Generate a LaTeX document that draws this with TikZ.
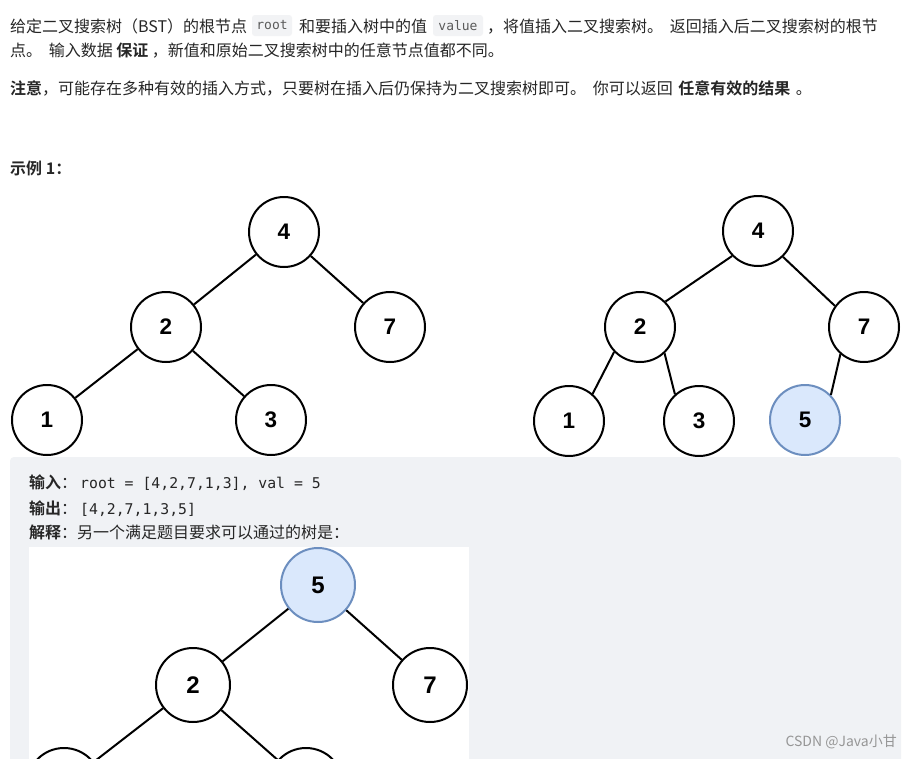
\documentclass[tikz,border=0pt]{standalone}
\usepackage{fontspec}
\setmainfont{Liberation Sans}
\newfontfamily\cjk{Noto Sans CJK SC}[BoldFont={Noto Sans CJK SC Bold}]
\newfontfamily\numf{Liberation Sans}
\newfontfamily\monof{DejaVu Sans Mono}
\definecolor{txt}{RGB}{38,38,38}
\definecolor{codebg}{RGB}{242,243,245}
\definecolor{codetx}{RGB}{90,90,90}
\definecolor{panel}{RGB}{240,242,245}
\definecolor{bluefill}{RGB}{218,232,252}
\definecolor{blueline}{RGB}{108,142,191}
\definecolor{wm}{RGB}{150,150,150}
\tikzset{
  tnode/.style={circle, draw=black, line width=2pt, fill=white, minimum size=70pt, inner sep=0pt,
    font=\numf\bfseries\fontsize{22.5}{22.5}\selectfont},
  bignode/.style={tnode, minimum size=74pt, font=\numf\bfseries\fontsize{24}{24}\selectfont},
  hl/.style={fill=bluefill, draw=blueline},
  edge/.style={line width=2pt, draw=black},
  txtline/.style={anchor=base west, inner sep=0pt, text=txt, font=\cjk\fontsize{16}{19}\selectfont},
  codebox/.style={fill=codebg, rounded corners=3pt, text=codetx, inner sep=0pt,
    minimum height=21pt, font=\monof\fontsize{13}{13}\selectfont},
  monotext/.style={anchor=base west, inner sep=0pt, text=txt, font=\monof\fontsize{14.8}{16}\selectfont}
}
\begin{document}
\begin{tikzpicture}[x=1pt,y=-1pt]
\useasboundingbox (0,0) rectangle (913,758);
\clip (0,0) rectangle (913,758);
\fill[white] (0,0) rectangle (913,758);

% ---------- header text ----------
\node[txtline] (l1a) at (10,32) {给定二叉搜索树（BST）的根节点};
\node[codebox, minimum width=40pt] (croot) at (272,25.5) {root};
\node[txtline] (l1b) at (299,32) {和要插入树中的值};
\node[codebox, minimum width=50pt] (cval) at (458,25.5) {value};
\node[txtline] (l1c) at (487,32) {，将值插入二叉搜索树。\hspace{3pt} 返回插入后二叉搜索树的根节};
\node[txtline] (l2) at (10,56) {点。\hspace{3pt} 输入数据 \textbf{保证} ，新值和原始二叉搜索树中的任意节点值都不同。};
\node[txtline] (l3) at (10,94) {\textbf{注意}，可能存在多种有效的插入方式，只要树在插入后仍保持为二叉搜索树即可。\hspace{3pt} 你可以返回\hspace{2pt} \textbf{任意有效的结果}\hspace{2pt} 。};
\node[txtline] (ex) at (10,174) {\textbf{示例 1：}};

% ---------- tree 1 ----------
\node[tnode] (a4) at (284,232) {4};
\node[tnode] (a2) at (166,327) {2};
\node[tnode] (a7) at (390,327) {7};
\node[tnode] (a1) at (47,420) {1};
\node[tnode] (a3) at (271,420) {3};
\draw[edge] (a4) -- (a2);
\draw[edge] (a4) -- (a7);
\draw[edge] (a2) -- (a1);
\draw[edge] (a2) -- (a3);

% ---------- tree 2 ----------
\node[tnode] (b4) at (758,231) {4};
\node[tnode] (b2) at (640,327) {2};
\node[tnode] (b7) at (864,327) {7};
\node[tnode] (b1) at (569,421) {1};
\node[tnode] (b3) at (699,421) {3};
\node[tnode, hl] (b5) at (805,420) {5};
\draw[edge] (b4.224) -- (b2.45);
\draw[edge] (b4.314) -- (b7.144);
\draw[edge] (b2.224) -- (b1.49);
\draw[edge] (b2.313) -- (b3.132);
\draw[edge] (b7.229) -- (b5.44);

% ---------- example panel ----------
\fill[panel, rounded corners=4pt] (10,457) rectangle (901,775);
\node[txtline] (in) at (29,488) {\textbf{输入}：};
\node[monotext] (inc) at (80,488) {root = [4,2,7,1,3], val = 5};
\node[txtline] (out) at (29,514) {\textbf{输出}：};
\node[monotext] (outc) at (80,514) {[4,2,7,1,3,5]};
\node[txtline] (ex2) at (29,538) {\textbf{解释}：另一个满足题目要求可以通过的树是：};

% ---------- tree 3 (image, clipped) ----------
\fill[white] (29,547) rectangle (469,760);
\begin{scope}
\clip (29,547) rectangle (469,758);
\node[bignode, hl] (c5) at (318,585) {5};
\node[bignode] (c2) at (193,685) {2};
\node[bignode] (c7) at (430,685) {7};
\node[bignode] (c1) at (64,785) {};
\node[bignode] (c3) at (306,785) {};
\draw[edge] (c5) -- (c2);
\draw[edge] (c5) -- (c7);
\draw[edge] (c2) -- (c1);
\draw[edge] (c2) -- (c3);
\end{scope}

% ---------- watermark ----------
\node[anchor=base east, inner sep=0pt, text=wm, font=\cjk\fontsize{14}{16}\selectfont] (wm) at (897,746) {CSDN @Java小甘};
\end{tikzpicture}
\end{document}
